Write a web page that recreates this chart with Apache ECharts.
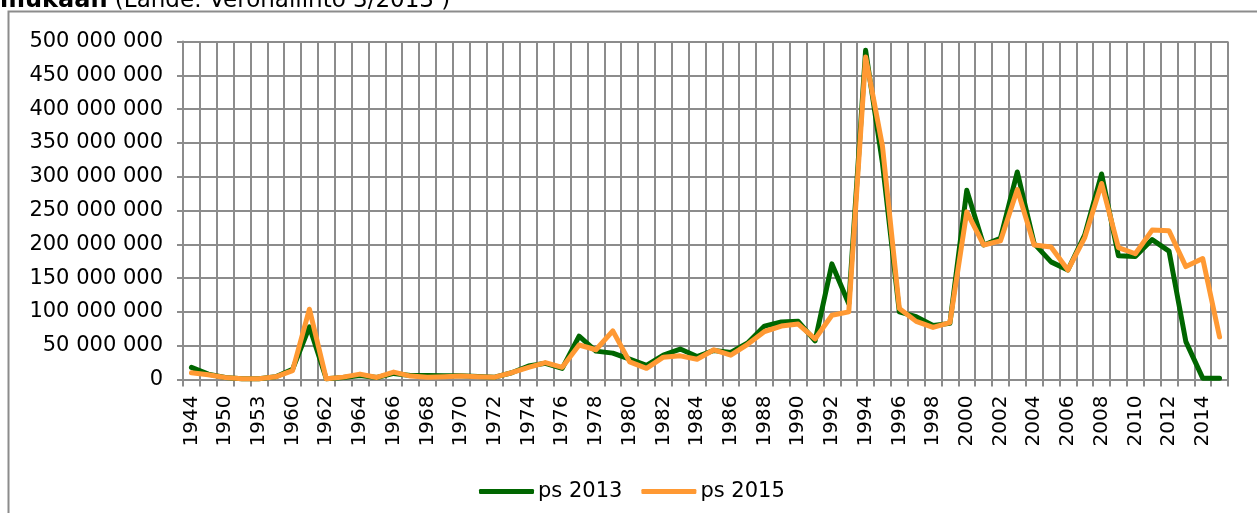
<!DOCTYPE html>
<html>
<head>
<meta charset="utf-8">
<script src="https://cdn.jsdelivr.net/npm/echarts@6/dist/echarts.min.js"></script>
<style>
  html, body { margin: 0; padding: 0; background: #fff; }
  #chart { width: 1257px; height: 513px; }
</style>
</head>
<body>
<div id="chart"></div>
<script>
var years = ['1944', '1948', '1950', '1952', '1953', '1958', '1960', '1961',
  '1962', '1963', '1964', '1965', '1966', '1967', '1968', '1969', '1970', '1971',
  '1972', '1973', '1974', '1975', '1976', '1977', '1978', '1979', '1980', '1981',
  '1982', '1983', '1984', '1985', '1986', '1987', '1988', '1989', '1990', '1991',
  '1992', '1993', '1994', '1995', '1996', '1997', '1998', '1999', '2000', '2001',
  '2002', '2003', '2004', '2005', '2006', '2007', '2008', '2009', '2010', '2011',
  '2012', '2013', '2014', '2015'];

// millions
var ps2013 = [18, 8, 3, 1, 1, 4, 15, 78, 1, 3, 6, 3, 9, 6, 6, 5.5, 5.5, 4.5, 3.5, 10,
  20, 24, 16.5, 64, 42, 39, 30, 21, 36, 45, 34, 43, 40, 54, 79, 85, 86, 57, 171, 112,
  487, 320, 100, 93, 80, 83, 280, 199, 209, 307, 201, 174, 162, 214, 304, 183, 182, 207,
  190, 56, 2, 2];
var ps2015 = [10, 7, 3, 1, 1, 4, 13, 104, 1, 3.5, 8, 3, 11, 5, 3.5, 4, 5, 4, 3.5, 10,
  18, 25, 18, 51, 44, 72, 26, 16.5, 33, 35, 30, 44, 36, 52, 71, 79, 82, 60, 95, 100,
  477, 345, 105, 86, 77, 84, 248, 199, 205, 281, 199, 196, 162, 210, 290, 195, 186, 221,
  220, 167, 179, 63];

var UNIT = 1000000;
var font = 'DejaVu Sans';
var gridColor = '#8c8c8c';

function spaced(v) {
  return String(v).replace(/\B(?=(\d{3})+(?!\d))/g, ' ');
}

var chart = echarts.init(document.getElementById('chart'), null, { renderer: 'canvas' });
chart.setOption({
  animation: false,
  textStyle: { fontFamily: font },
  graphic: [
    {
      type: 'rect',
      shape: { x: 8.5, y: 11.5, width: 1300, height: 600 },
      style: { fill: 'none', stroke: gridColor, lineWidth: 2 }
    },
    {
      type: 'text',
      x: 0, y: 13,
      style: {
        text: '{b|mukaan} (Lähde: Verohallinto 3/2013 )',
        verticalAlign: 'bottom',
        font: '23px "DejaVu Sans"',
        fill: '#000',
        rich: {
          b: { fontWeight: 'bold', fontSize: 24, fontFamily: font }
        }
      }
    }
  ],
  grid: { left: 183, right: 29, top: 41.5, bottom: 133.5, containLabel: false },
  legend: {
    left: 474,
    top: 476,
    itemWidth: 55,
    itemHeight: 5,
    itemGap: 19,
    icon: 'roundRect',
    textStyle: { fontSize: 21, color: '#000', fontFamily: font, padding: [0, 0, 0, -1] },
    data: ['ps 2013', 'ps 2015']
  },
  xAxis: {
    type: 'category',
    data: years,
    boundaryGap: true,
    axisLine: { lineStyle: { color: gridColor, width: 2 } },
    axisTick: { show: true, interval: 0, length: 7, lineStyle: { color: gridColor, width: 2 } },
    splitLine: { show: true, interval: 0, lineStyle: { color: gridColor, width: 2 } },
    axisLabel: { interval: 1, rotate: 90, margin: 16, fontSize: 20, color: '#000', fontFamily: font }
  },
  yAxis: {
    type: 'value',
    min: 0,
    max: 500 * UNIT,
    interval: 50 * UNIT,
    axisLine: { show: true, lineStyle: { color: gridColor, width: 2 } },
    axisTick: { show: true, length: 6, lineStyle: { color: gridColor, width: 2 } },
    splitLine: { show: true, lineStyle: { color: gridColor, width: 2 } },
    axisLabel: { margin: 20, fontSize: 21, color: '#000', fontFamily: font, formatter: spaced }
  },
  series: [
    {
      name: 'ps 2013',
      type: 'line',
      data: ps2013.map(function (v) { return v * UNIT; }),
      symbol: 'none',
      color: '#006600',
      lineStyle: { width: 5, color: '#006600', join: 'round', cap: 'round' }
    },
    {
      name: 'ps 2015',
      type: 'line',
      data: ps2015.map(function (v) { return v * UNIT; }),
      symbol: 'none',
      color: '#ff9933',
      lineStyle: { width: 5, color: '#ff9933', join: 'round', cap: 'round' }
    }
  ]
});
</script>
</body>
</html>
